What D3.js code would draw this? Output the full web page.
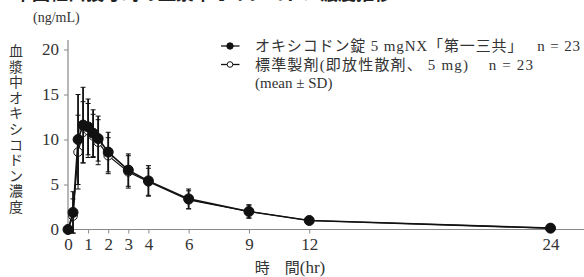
<html>
<head>
<script src="https://d3js.org/d3.v7.min.js"></script>
<style>
  body { margin: 0; background: #fff; }
  text { font-family: "Liberation Serif", "Noto Sans CJK JP", serif; fill: #333; }
</style>
</head>
<body>
<script>
// sampling times (hr)
var times = [0, 0.25, 0.5, 0.75, 1, 1.25, 1.5, 2, 3, 4, 6, 9, 12, 24];
// オキシコドン錠 5mgNX (mean, SD)
var nxMean = [0, 1.9, 10.0, 11.6, 11.4, 10.7, 10.1, 8.6, 6.6, 5.4, 3.4, 2.0, 1.0, 0.15];
var nxSD   = [0, 2.3, 5.0, 4.2, 3.1, 2.6, 2.5, 2.2, 1.8, 1.7, 1.1, 0.75, 0.3, 0.1];
// 標準製剤 (mean, SD)
var stdMean = [0, 1.5, 8.6, 10.8, 11.0, 10.4, 9.7, 8.2, 6.4, 5.3, 3.3, 2.0, 1.0, 0.15];
var stdSD   = [0, 1.9, 4.1, 3.4, 3.0, 2.4, 2.5, 2.0, 1.8, 1.5, 1.0, 0.7, 0.35, 0.1];
var xTicks = [0, 1, 2, 3, 4, 6, 9, 12, 24];
var yTicks = [0, 5, 10, 15, 20];

var width = 584, height = 277;
var svg = d3.select("body").append("svg")
  .attr("width", width).attr("height", height);

var x = d3.scaleLinear().domain([0, 24]).range([68, 550.5]);
var y = d3.scaleLinear().domain([0, 20]).range([229.5, 49.5]);

// title, cut off at the very top as in the source figure
svg.append("text").attr("x", 14).attr("y", 0)
  .style("font-size", "18px").style("font-weight", "bold")
  .style("fill", "#222")
  .text("単回経口投与時の血漿中オキシコドン濃度推移");

svg.append("text").attr("x", 33).attr("y", 22)
  .style("font-size", "14px").text("(ng/mL)");

// y label (vertical)
var ylab = "血漿中オキシコドン濃度".split("");
svg.append("g").selectAll("text").data(ylab).enter().append("text")
  .attr("x", 16).attr("y", function(d, i) { return 56 + i * 15.6; })
  .attr("text-anchor", "middle")
  .style("font-size", "14px")
  .text(function(d) { return d; });

// axes
var axisColor = "#888";
svg.append("line").attr("x1", x(0)).attr("x2", width)
  .attr("y1", y(0)).attr("y2", y(0)).attr("stroke", axisColor).attr("stroke-width", 1.2);
svg.append("line").attr("x1", x(0)).attr("x2", x(0))
  .attr("y1", y(0)).attr("y2", 40).attr("stroke", axisColor).attr("stroke-width", 1.2);

var yAxis = svg.append("g").attr("transform", "translate(" + x(0) + ",0)")
  .call(d3.axisLeft(y).tickValues(yTicks).tickSize(4).tickPadding(5));
var xAxis = svg.append("g").attr("transform", "translate(0," + y(0) + ")")
  .call(d3.axisBottom(x).tickValues(xTicks).tickSize(4).tickPadding(4));
[yAxis, xAxis].forEach(function(a) {
  a.select(".domain").remove();
  a.selectAll("line").attr("stroke", axisColor);
  a.selectAll("text").style("font-size", "17px").attr("fill", "#333")
    .style("font-family", "'Liberation Serif', serif");
});

var xl = svg.append("text").attr("x", 290).attr("y", 273).attr("text-anchor", "middle")
  .style("font-size", "15px");
xl.append("tspan").text("時　間");
xl.append("tspan").style("font-size", "17px").text("(hr)");

function series(means, sds, filled) {
  var pts = times.map(function(t, i) { return { t: t, m: means[i], s: sds[i] }; });
  var g = svg.append("g");
  g.append("path").datum(pts)
    .attr("fill", "none").attr("stroke", "#111").attr("stroke-width", filled ? 1.6 : 1.2)
    .attr("d", d3.line().x(function(d) { return x(d.t); }).y(function(d) { return y(d.m); }));
  var eb = g.selectAll(".eb").data(pts.filter(function(d) { return d.s > 0; })).enter().append("g");
  eb.append("line")
    .attr("x1", function(d) { return x(d.t); }).attr("x2", function(d) { return x(d.t); })
    .attr("y1", function(d) { return y(d.m - d.s); }).attr("y2", function(d) { return y(d.m + d.s); })
    .attr("stroke", "#111").attr("stroke-width", filled ? 1.8 : 1);
  [-1, 1].forEach(function(k) {
    eb.append("line")
      .attr("x1", function(d) { return x(d.t) - 2.5; }).attr("x2", function(d) { return x(d.t) + 2.5; })
      .attr("y1", function(d) { return y(d.m + k * d.s); }).attr("y2", function(d) { return y(d.m + k * d.s); })
      .attr("stroke", "#111").attr("stroke-width", 1);
  });
  g.selectAll("circle").data(pts).enter().append("circle")
    .attr("cx", function(d) { return x(d.t); }).attr("cy", function(d) { return y(d.m); })
    .attr("r", filled ? 5 : 4.3)
    .attr("fill", filled ? "#111" : "#fff")
    .attr("stroke", "#111").attr("stroke-width", 1);
}
series(stdMean, stdSD, false);
series(nxMean, nxSD, true);

// legend
var legend = [
  { label: "オキシコドン錠 5 mgNX「第一三共」   n = 23", filled: true, y: 46, w: 325 },
  { label: "標準製剤(即放性散剤、 5 mg)    n = 23", filled: false, y: 64.5, w: 278 }
];
var lg = svg.append("g").selectAll("g").data(legend).enter().append("g");
lg.append("line").attr("x1", 221).attr("x2", 239.5)
  .attr("y1", function(d) { return d.y; }).attr("y2", function(d) { return d.y; })
  .attr("stroke", "#111").attr("stroke-width", 1.3);
lg.append("circle").attr("cx", 230).attr("cy", function(d) { return d.y; })
  .attr("r", function(d) { return d.filled ? 3.2 : 2.8; })
  .attr("fill", function(d) { return d.filled ? "#111" : "#fff"; })
  .attr("stroke", "#111").attr("stroke-width", 1);
lg.append("text").attr("x", 255).attr("y", function(d) { return d.y + 5; })
  .attr("textLength", function(d) { return d.w; }).attr("lengthAdjust", "spacing")
  .style("font-size", "15px").style("white-space", "pre")
  .text(function(d) { return d.label; });
svg.append("text").attr("x", 255).attr("y", 87.5)
  .style("font-size", "15px").text("(mean ± SD)");
</script>
</body>
</html>
